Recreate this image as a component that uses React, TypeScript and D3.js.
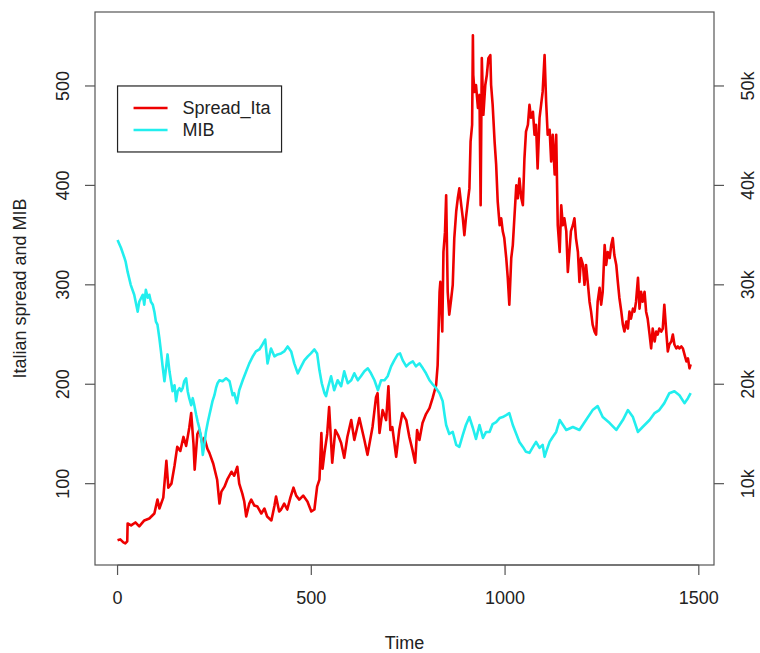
import React from "react";
import * as d3 from "d3";

// Spread_Ita (left axis, basis points)
const spreadTime = [
  0, 7, 15, 20, 25, 26, 35, 46, 56, 69,
  82, 95, 103, 108, 118, 126, 131, 139, 147, 154,
  162, 170, 177, 185, 190, 196, 199, 206, 211, 219,
  224, 232, 237, 247, 257, 263, 268, 276, 283, 294,
  301, 309, 314, 322, 327, 332, 340, 345, 353, 361,
  371, 379, 386, 397, 405, 409, 417, 422, 430, 438,
  446, 454, 461, 469, 479, 490, 500, 508, 515, 521,
  526, 529, 534, 541, 546, 554, 562, 570, 577, 585,
  593, 603, 611, 624, 637, 645, 658, 667, 671, 676,
  684, 693, 699, 704, 709, 719, 727, 735, 745, 753,
  761, 768, 773, 779, 787, 796, 805, 813, 822, 826,
  831, 833, 838, 841, 845, 848, 852, 856, 861, 865,
  869, 874, 878, 882, 887, 891, 895, 899, 904, 908,
  911, 915, 917, 918, 921, 925, 930, 934, 937, 940,
  944, 949, 953, 957, 962, 964, 968, 973, 977, 981,
  986, 990, 994, 998, 1003, 1007, 1011, 1016, 1020, 1024,
  1029, 1033, 1037, 1042, 1046, 1050, 1054, 1059, 1063, 1067,
  1072, 1076, 1080, 1084, 1089, 1093, 1097, 1102, 1106, 1110,
  1115, 1119, 1123, 1128, 1132, 1136, 1141, 1145, 1149, 1153,
  1158, 1162, 1166, 1170, 1175, 1179, 1183, 1188, 1192, 1196,
  1201, 1205, 1209, 1214, 1218, 1222, 1226, 1231, 1235, 1239,
  1244, 1248, 1252, 1257, 1261, 1265, 1270, 1274, 1278, 1282,
  1287, 1291, 1295, 1300, 1304, 1308, 1313, 1317, 1321, 1325,
  1330, 1334, 1338, 1343, 1347, 1351, 1355, 1360, 1364, 1368,
  1373, 1377, 1381, 1386, 1390, 1394, 1398, 1403, 1407, 1411,
  1416, 1420, 1424, 1429, 1433, 1437, 1442, 1446, 1450, 1455,
  1459, 1463, 1468, 1472, 1476, 1479,
];
const spreadValues = [
  43, 44, 41, 40, 42, 60, 58, 61, 57, 63,
  65, 70, 84, 75, 86, 123, 96, 100, 118, 137,
  133, 147, 138, 156, 171, 140, 114, 150, 154, 140,
  146, 135, 131, 120, 104, 80, 92, 97, 104, 112,
  108, 117, 100, 90, 82, 67, 80, 84, 78, 77,
  70, 75, 67, 63, 78, 87, 72, 74, 80, 74,
  86, 96, 88, 84, 88, 82, 72, 74, 97, 104,
  151, 115, 131, 150, 177, 121, 154, 148, 141, 126,
  147, 164, 144, 166, 144, 129, 157, 187, 191, 151,
  174, 164, 198, 154, 157, 127, 154, 171, 164, 147,
  134, 121, 154, 144, 161, 170, 176, 186, 199, 219,
  293, 303, 253, 333, 353, 390, 293, 270, 286, 300,
  347, 374, 387, 397, 380, 367, 350, 367, 384, 397,
  444, 461, 551, 511, 494, 501, 478, 491, 380, 528,
  471, 501, 511, 528, 531, 501, 481, 444, 421, 384,
  360, 367, 354, 347, 327, 307, 280, 327, 340, 367,
  400, 387, 407, 387, 380, 427, 454, 461, 481, 468,
  474, 451, 461, 417, 468, 481, 494, 531, 484, 451,
  456, 424, 451, 411, 451, 360, 333, 380, 360, 367,
  354, 313, 333, 354, 360, 367, 347, 333, 303, 327,
  320, 300, 320, 300, 283, 273, 260, 253, 250, 283,
  297, 280, 293, 340, 320, 333, 327, 340, 347, 330,
  320, 303, 287, 273, 260, 253, 263, 256, 273, 266,
  276, 273, 283, 307, 276, 293, 283, 293, 273, 266,
  250, 236, 256, 243, 253, 250, 256, 253, 256, 280,
  253, 233, 240, 243, 250, 240, 236, 238, 236, 238,
  236, 230, 223, 226, 216, 220,
];

// MIB index (right axis, index points)
const mibTime = [
  0, 9, 17, 21, 26, 34, 43, 52, 56, 65,
  69, 73, 78, 82, 86, 91, 95, 99, 103, 108,
  112, 116, 121, 125, 129, 134, 138, 142, 147, 151,
  155, 160, 164, 168, 172, 177, 181, 185, 190, 194,
  198, 203, 207, 211, 216, 220, 224, 228, 233, 237,
  241, 245, 250, 254, 258, 263, 271, 280, 289, 297,
  301, 308, 314, 323, 332, 340, 349, 357, 366, 374,
  381, 387, 396, 405, 413, 422, 430, 439, 448, 456,
  465, 474, 482, 491, 499, 508, 515, 521, 527, 534,
  538, 544, 551, 559, 568, 577, 585, 594, 603, 611,
  620, 628, 637, 646, 654, 663, 672, 680, 689, 697,
  706, 714, 723, 729, 736, 745, 753, 762, 770, 779,
  788, 796, 805, 813, 822, 831, 839, 844, 848, 856,
  865, 874, 882, 891, 899, 908, 917, 925, 934, 943,
  951, 960, 968, 977, 986, 994, 1003, 1011, 1020, 1029,
  1037, 1046, 1054, 1063, 1072, 1080, 1089, 1097, 1102, 1106,
  1115, 1123, 1132, 1141, 1158, 1175, 1192, 1209, 1226, 1239,
  1252, 1270, 1287, 1304, 1317, 1330, 1343, 1355, 1373, 1386,
  1398, 1411, 1424, 1437, 1450, 1463, 1472, 1479,
];
const mibValues = [
  34500, 33700, 32800, 32300, 31300, 30000, 29000, 27300, 28300, 29000,
  28000, 29500, 28700, 29000, 28300, 28000, 27300, 26300, 26000, 24600,
  23300, 21900, 20300, 21600, 23000, 21300, 20300, 19300, 19900, 18300,
  19300, 19600, 19300, 19600, 20300, 20600, 19300, 18600, 17900, 18600,
  17900, 16900, 16200, 15600, 14600, 12900, 13900, 15200, 16200, 16900,
  17600, 18300, 18900, 19600, 20100, 20400, 20300, 20600, 20300, 18900,
  19100, 18100, 19400, 20400, 21300, 22100, 22800, 23300, 23500, 24000,
  24500, 22100, 23600, 22800, 23000, 23100, 23300, 23800, 23300, 22100,
  21100, 21800, 22400, 22800, 23100, 23500, 23100, 21400, 20100, 19100,
  18800, 19800, 20800, 19400, 20400, 19800, 21300, 20100, 20400, 21100,
  20400, 20800, 21300, 21600, 21100, 20400, 19400, 20400, 20400, 20800,
  21800, 22400, 23000, 23100, 22400, 21800, 22100, 22300, 21800, 22100,
  21600, 21100, 20400, 20000, 19600, 19100, 18300, 16900, 15900, 15000,
  15200, 13900, 13700, 14900, 15900, 16700, 15600, 14500, 15900, 14600,
  15200, 15200, 16000, 16200, 16600, 16700, 16900, 17100, 15900, 15000,
  14200, 13700, 13200, 13100, 13700, 14200, 13600, 13900, 12700, 13200,
  14200, 14700, 15200, 16400, 15400, 15700, 15400, 16400, 17400, 17800,
  16700, 16100, 15400, 16400, 17400, 16700, 15200, 15700, 16400, 17100,
  17400, 18100, 19100, 19300, 18900, 18100, 18600, 19100,
];

const xTicks = [0, 500, 1000, 1500];
const leftTicks = [100, 200, 300, 400, 500];
const rightTicks = [10000, 20000, 30000, 40000, 50000];
const seriesNames = ["Spread_Ita", "MIB"];
const seriesColors = ["#EE0000", "#22EEEE"];
const xTitle = "Time";
const yTitle = "Italian spread and MIB";

export default function App() {
  const W = 760;
  const H = 653;
  const box = { l: 95, r: 714, t: 12, b: 565 };
  const font = "'Liberation Sans', Arial, Helvetica, sans-serif";
  const fs = 18;
  const ink = "#222";
  const frame = "#555";
  const tick = 10;

  const x = d3.scaleLinear().domain([-58.2, 1539.2]).range([box.l, box.r]);
  const yL = d3.scaleLinear().domain([18.2, 574.4]).range([box.b, box.t]);
  const yR = d3.scaleLinear().domain([1820, 57440]).range([box.b, box.t]);

  const spreadData = spreadTime.map((t, i) => [t, spreadValues[i]] as [number, number]);
  const mibData = mibTime.map((t, i) => [t, mibValues[i]] as [number, number]);

  const lineL = d3
    .line<[number, number]>()
    .x((d) => x(d[0]))
    .y((d) => yL(d[1]));
  const lineR = d3
    .line<[number, number]>()
    .x((d) => x(d[0]))
    .y((d) => yR(d[1]));

  const fmtK = (v: number) => `${v / 1000}k`;

  const legX = x(0);
  const legY = yL(500);
  const legW = 164;
  const legH = 66;

  const midY = (box.t + box.b) / 2;

  return (
    <svg
      width={W}
      height={H}
      style={{ position: "absolute", left: 0, top: 0, background: "#fff" }}
      fontFamily={font}
    >
      <rect x={0} y={0} width={W} height={H} fill="#fff" />
      <defs>
        <clipPath id="plotclip">
          <rect x={box.l} y={box.t} width={box.r - box.l} height={box.b - box.t} />
        </clipPath>
      </defs>

      <g clipPath="url(#plotclip)">
        <path
          d={lineL(spreadData) || ""}
          fill="none"
          stroke={seriesColors[0]}
          strokeWidth={2.6}
          strokeLinejoin="round"
        />
        <path
          d={lineR(mibData) || ""}
          fill="none"
          stroke={seriesColors[1]}
          strokeWidth={2.6}
          strokeLinejoin="round"
        />
      </g>

      {/* frame */}
      <rect
        x={box.l}
        y={box.t}
        width={box.r - box.l}
        height={box.b - box.t}
        fill="none"
        stroke={frame}
        strokeWidth={1.2}
      />

      {/* bottom axis */}
      <line x1={x(xTicks[0])} x2={x(xTicks[xTicks.length - 1])} y1={box.b} y2={box.b} stroke={frame} strokeWidth={1.2} />
      {xTicks.map((t) => (
        <g key={"x" + t}>
          <line x1={x(t)} x2={x(t)} y1={box.b} y2={box.b + tick} stroke={frame} strokeWidth={1.2} />
          <text
            x={x(t)}
            y={box.b + 33}
            textAnchor="middle"
            dominantBaseline="central"
            fontSize={fs}
            fill={ink}
          >
            {t}
          </text>
        </g>
      ))}

      {/* left axis */}
      {leftTicks.map((v) => (
        <g key={"l" + v}>
          <line x1={box.l - tick} x2={box.l} y1={yL(v)} y2={yL(v)} stroke={frame} strokeWidth={1.2} />
          <text
            transform={`translate(${box.l - 32},${yL(v)}) rotate(-90)`}
            textAnchor="middle"
            dominantBaseline="central"
            fontSize={fs}
            fill={ink}
          >
            {v}
          </text>
        </g>
      ))}

      {/* right axis */}
      {rightTicks.map((v) => (
        <g key={"r" + v}>
          <line x1={box.r} x2={box.r + tick} y1={yR(v)} y2={yR(v)} stroke={frame} strokeWidth={1.2} />
          <text
            transform={`translate(${box.r + 34},${yR(v)}) rotate(-90)`}
            textAnchor="middle"
            dominantBaseline="central"
            fontSize={fs}
            fill={ink}
          >
            {fmtK(v)}
          </text>
        </g>
      ))}

      {/* titles */}
      <text
        x={(box.l + box.r) / 2}
        y={box.b + 78}
        textAnchor="middle"
        dominantBaseline="central"
        fontSize={fs}
        fill={ink}
      >
        {xTitle}
      </text>
      <text
        transform={`translate(${20},${midY}) rotate(-90)`}
        textAnchor="middle"
        dominantBaseline="central"
        fontSize={fs}
        fill={ink}
      >
        {yTitle}
      </text>

      {/* legend */}
      <g transform={`translate(${legX},${legY})`}>
        <rect x={0} y={0} width={legW} height={legH} fill="#fff" stroke="#222" strokeWidth={1.2} />
        {seriesNames.map((name, i) => (
          <g key={name} transform={`translate(0,${22 + i * 22})`}>
            <line x1={16} x2={50} y1={0} y2={0} stroke={seriesColors[i]} strokeWidth={2.6} />
            <text x={65} y={0} dominantBaseline="central" fontSize={fs} fill={ink}>
              {name}
            </text>
          </g>
        ))}
      </g>
    </svg>
  );
}
